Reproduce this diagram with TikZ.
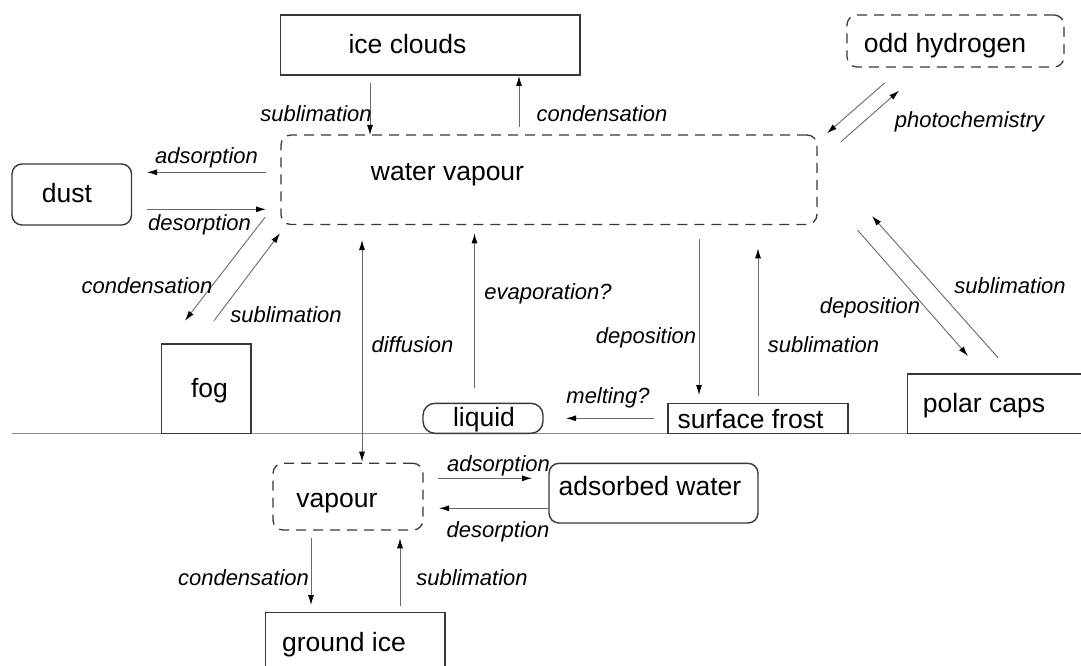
\documentclass[tikz,border=0pt]{standalone}
\usepackage{fontspec}
\setmainfont{Liberation Sans}
\usetikzlibrary{arrows.meta}
\definecolor{boxc}{HTML}{383838}
\definecolor{linec}{HTML}{6A6A6A}
\definecolor{groundc}{HTML}{8A8A8A}
\begin{document}
\begin{tikzpicture}[x=1pt,y=-1pt,
  base/.style={inner sep=0pt, outer sep=0pt, line width=1.4pt, draw=boxc},
  solidbox/.style={base},
  roundbox/.style={base, rounded corners=10pt},
  dashbox/.style={base, line width=1.3pt, dash pattern=on 10pt off 7pt, rounded corners=10pt},
  every label/.style={font=\fontsize{26.5}{30}\selectfont, inner sep=0pt, text=black},
  lab/.style={font=\fontsize{22}{26}\selectfont\itshape, inner sep=0pt, text=black},
  tip/.style={-{Latex[length=10pt,width=6pt,color=black]}},
  arr/.style={draw=linec, line width=0.9pt, tip},
  darr/.style={draw=linec, line width=0.9pt, {Latex[length=10pt,width=6pt,color=black]}-{Latex[length=10pt,width=6pt,color=black]}},
  ground/.style={draw=groundc, line width=1.2pt}
]
\clip (0,0) rectangle (1081,666);

% ground line
\coordinate (g1) at (12,433.3);
\coordinate (g2) at (1081,433.3);
\draw[ground] (g1) -- (g2);

% boxes
\node[solidbox, minimum width=299.3pt, minimum height=60pt,
  label={[xshift=-22.85pt,yshift=1pt]center:ice clouds}] (ic) at (430.35,45) {};
\node[dashbox, minimum width=217pt, minimum height=52pt,
  label={[xshift=-10.5pt,yshift=-4.5pt]center:odd hydrogen}] (oh) at (955.5,41) {};
\node[dashbox, minimum width=536pt, minimum height=89.5pt,
  label={[xshift=-101.5pt,yshift=5pt]center:water vapour}] (wv) at (549,179.75) {};
\node[roundbox, minimum width=119.5pt, minimum height=61pt,
  label={[xshift=-4.75pt,yshift=1pt]center:dust}] (dust) at (71.75,194.5) {};
\node[solidbox, minimum width=89.5pt, minimum height=89.3pt,
  label={[xshift=3.25pt,yshift=-2pt]center:fog}] (fog) at (206.25,388.65) {};
\node[roundbox, rounded corners=12pt, minimum width=120pt, minimum height=30pt,
  label={[xshift=1pt,yshift=-1pt]center:liquid}] (liq) at (483,418.3) {};
\node[solidbox, minimum width=180pt, minimum height=30pt,
  label={[xshift=-7.5pt,yshift=-0.5pt]center:surface frost}] (sf) at (758,418.3) {};
\node[solidbox, minimum width=187.3pt, minimum height=59.3pt,
  label={[xshift=-17.35pt,yshift=-1.5pt]center:polar caps}] (pc) at (1001.35,403.65) {};
\node[dashbox, minimum width=150pt, minimum height=66.7pt,
  label={[xshift=-11pt,yshift=-6pt]center:vapour}] (vap) at (348,496.65) {};
\node[roundbox, minimum width=209pt, minimum height=59.7pt,
  label={[xshift=-3.5pt,yshift=7.5pt]center:adsorbed water}] (aw) at (653.5,493.15) {};
\node[solidbox, minimum width=179.5pt, minimum height=67.3pt,
  label={[xshift=-11.25pt,yshift=2pt]center:ground ice}] (gi) at (355.25,646.35) {};

% connectors
\draw[arr] ([shift={(-60.35,7.7)}]ic.south) -- ([shift={(-179,0)}]wv.north);
\draw[arr] ([shift={(-30,-8.3)}]wv.north) -- ([shift={(88.65,1)}]ic.south);
\draw[arr] ([shift={(-15,-7.45)}]wv.west) -- ([shift={(15.5,-22.2)}]dust.east);
\draw[arr] ([shift={(15.5,14.8)}]dust.east) -- ([shift={(-15,29.55)}]wv.west);
\draw[arr] ([shift={(-16,-7.2)}]wv.south west) -- ([shift={(-21.25,-23.3)}]fog.north);
\draw[arr] ([shift={(7.75,-23.3)}]fog.north) -- ([shift={(-1,8.8)}]wv.south west);
\draw[darr] ([shift={(-187,15.5)}]wv.south) -- ([shift={(14,-1.6)}]vap.north);
\draw[arr] ([shift={(-8.5,-15)}]liq.north) -- ([shift={(-74.5,8.8)}]wv.south);
\draw[arr] ([shift={(150,14.8)}]wv.south) -- ([shift={(-59,-8.3)}]sf.north);
\draw[arr] ([shift={(0,-7.3)}]sf.north) -- ([shift={(209,23.8)}]wv.south);
\draw[arr] ([shift={(-14,0)}]sf.west) -- ([shift={(23,0)}]liq.east);
\draw[arr] ([shift={(-70.5,15.7)}]oh.south) -- ([shift={(10,-1.7)}]wv.north east);
\draw[arr] ([shift={(24,6.7)}]wv.north east) -- ([shift={(-56.5,23.7)}]oh.south);
\draw[arr] ([shift={(40.5,5.5)}]wv.south east) -- ([shift={(60.3,-18)}]pc.north west);
\draw[arr] ([shift={(90.3,-16.3)}]pc.north west) -- ([shift={(55,-8.5)}]wv.south east);
\draw[arr] ([shift={(15,-18.35)}]vap.east) -- ([shift={(-17,-14.85)}]aw.west);
\draw[arr] ([shift={(0,15.15)}]aw.west) -- ([shift={(16,11.65)}]vap.east);
\draw[arr] ([shift={(-37,8.3)}]vap.south) -- ([shift={(-44.25,-7.7)}]gi.north);
\draw[arr] ([shift={(44.75,-6.7)}]gi.north) -- ([shift={(52,8.3)}]vap.south);

% process labels
\node[lab] (t1) at (316,114) {sublimation};
\node[lab] (t2) at (602,113.5) {condensation};
\node[lab] (t3) at (206.5,158) {adsorption};
\node[lab] (t4) at (199.5,225) {desorption};
\node[lab] (t5) at (147,286) {condensation};
\node[lab] (t6) at (286,315) {sublimation};
\node[lab] (t7) at (969.5,121.5) {photochemistry};
\node[lab] (t8) at (548,293.5) {evaporation?};
\node[lab] (t9) at (412.5,345) {diffusion};
\node[lab] (t10) at (646,337.5) {deposition};
\node[lab] (t11) at (823.5,345) {sublimation};
\node[lab] (t12) at (870,307.5) {deposition};
\node[lab] (t13) at (1010,286) {sublimation};
\node[lab] (t14) at (608,397.5) {melting?};
\node[lab] (t15) at (498.5,466) {adsorption};
\node[lab] (t16) at (498,532) {desorption};
\node[lab] (t17) at (243.5,577.5) {condensation};
\node[lab] (t18) at (472,577.5) {sublimation};
\end{tikzpicture}
\end{document}
